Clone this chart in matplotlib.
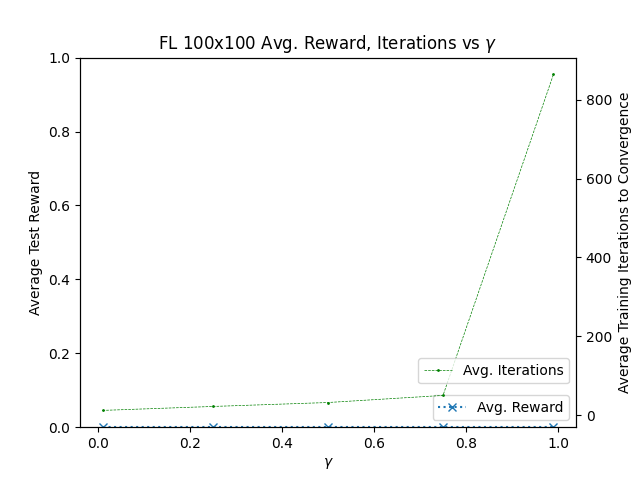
import numpy as np
import matplotlib
matplotlib.use('Agg')
import matplotlib.pyplot as plt

# discount factors tried and results
gammas = [0.01, 0.25, 0.5, 0.75, 0.99]
avg_reward = [0.0, 0.0, 0.0, 0.0, 0.0]
avg_iters = [12, 22, 32, 50, 864]

fig, ax = plt.subplots(figsize=(6.4, 4.8), dpi=100)
ax.plot(gammas, avg_reward, 'x:', color='C0', label='Avg. Reward')
ax.set_ylim(0, 1)
ax.set_xlabel(r'$\gamma$')
ax.set_ylabel('Average Test Reward')
ax.set_title(r'FL 100x100 Avg. Reward, Iterations vs $\gamma$')
ax.legend(loc='lower right')

ax2 = ax.twinx()
ax2.plot(gammas, avg_iters, 'g.--', linewidth=0.5, markersize=2, label='Avg. Iterations')
ax2.set_ylabel('Average Training Iterations to Convergence')
ax2.legend(loc='lower right', bbox_to_anchor=(1, 0.1))

fig.savefig('out.png')
